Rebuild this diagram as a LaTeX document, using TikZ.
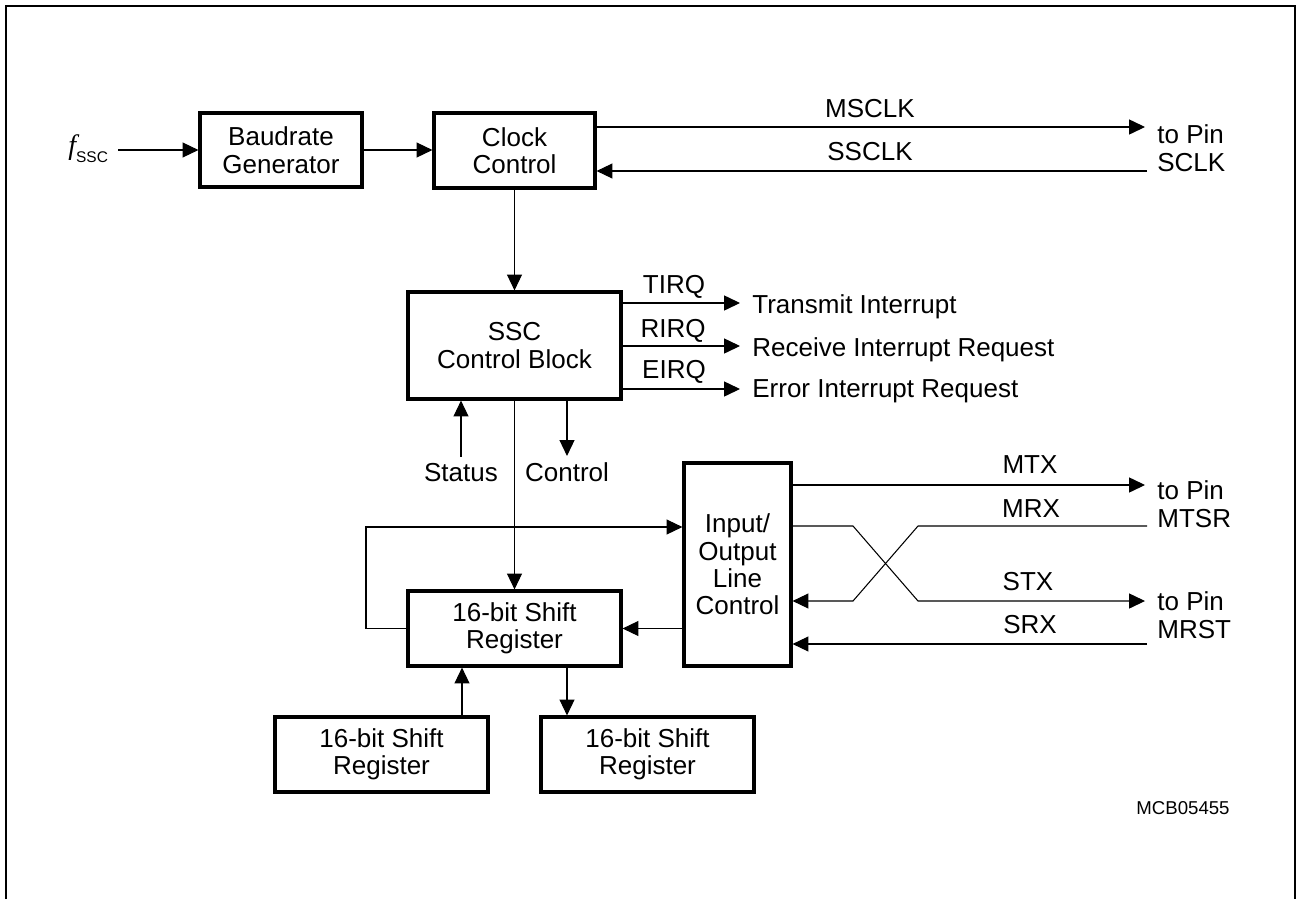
\documentclass[tikz,border=0pt]{standalone}
\usepackage{fontspec}
\setmainfont{Liberation Sans}
\newfontfamily\timesfont{Liberation Serif}
\usetikzlibrary{arrows.meta}

\begin{document}
\begin{tikzpicture}[x=0.02cm, y=-0.02cm,
    font=\fontsize{14.8}{15.6}\selectfont,
    blk/.style={draw, line width=1.8pt, align=center, inner sep=0pt},
    reg/.style={blk, minimum width=4.26cm, minimum height=1.5cm},
    arw/.style={line width=0.6pt, -{Triangle[length=9pt, width=8.5pt]}},
    wire/.style={line width=0.6pt},
    sig/.style={anchor=base, inner sep=0pt},
    pinlbl/.style={anchor=west, align=left, inner sep=0pt}]
    \useasboundingbox (0,0) rectangle (1297,899);
    % outer frame, open at the bottom
    \draw[line width=1.1pt] (6,899) -- (6,6) -- (1295,6) -- (1295,899);

    % clock path
    \node[anchor=base west, inner xsep=5.7pt, inner ysep=0pt] (fssc) at (58,154)
        {{\timesfont\itshape\fontsize{16}{16}\selectfont f}\raisebox{-5pt}{\fontsize{8.8}{9}\selectfont SSC}};
    \node[blk, minimum width=3.24cm, minimum height=1.48cm] (baud) at (281,150) {Baudrate\\Generator};
    \node[blk, minimum width=3.22cm, minimum height=1.5cm] (clk) at (514.5,150.5) {Clock\\Control};
    \draw[arw] (fssc.east |- baud.west) -- (baud.west);
    \draw[arw] (baud.east |- 0,150) -- (clk.west |- 0,150);

    \coordinate (sclkO) at (1145,127);
    \coordinate (sclkI) at (1147,171);
    \draw[arw] (clk.east |- sclkO) -- (sclkO);
    \draw[arw] (sclkI) -- (clk.east |- sclkI);
    \node[sig] at (870,117) {MSCLK};
    \node[sig] at (870,160) {SSCLK};
    \node[pinlbl] (sclk) at (1157,148) {to Pin\\SCLK};

    % control block and interrupts
    \node[blk, minimum width=4.26cm, minimum height=2.14cm] (ssc) at (514.5,345.5) {SSC\\Control Block};
    \draw[arw] (clk) -- (ssc);

    \coordinate (tirq) at (740,303);
    \coordinate (rirq) at (740,346);
    \coordinate (eirq) at (740,389);
    \draw[arw] (ssc.east |- tirq) -- (tirq);
    \draw[arw] (ssc.east |- rirq) -- (rirq);
    \draw[arw] (ssc.east |- eirq) -- (eirq);
    \node[sig] at (674,293) {TIRQ};
    \node[sig] at (673,337) {RIRQ};
    \node[sig] at (674,378) {EIRQ};
    \node[anchor=base west, inner sep=0pt] (txi) at (752,313) {Transmit Interrupt};
    \node[anchor=base west, inner sep=0pt] (rxi) at (752,356) {Receive Interrupt Request};
    \node[anchor=base west, inner sep=0pt] (exi) at (752,397) {Error Interrupt Request};

    \node[anchor=base] (stat) at (461,481) {Status};
    \node[anchor=base] (ctl) at (567,481) {Control};
    \draw[arw] (stat.north) -- (ssc.south -| stat);
    \draw[arw] (ssc.south -| ctl) -- (ctl.north);

    % registers and line control
    \node[reg] (shreg) at (514.5,628.5) {16-bit Shift\\Register};
    \node[reg] (lreg) at (381.5,754.5) {16-bit Shift\\Register};
    \node[reg] (rreg) at (647.5,754.5) {16-bit Shift\\Register};
    \node[blk, minimum width=2.14cm, minimum height=4.06cm] (iolc) at (737.5,564.5) {Input/\\Output\\Line\\Control};

    \draw[arw] (ssc) -- (shreg);
    \coordinate (lp) at (366,527);
    \draw[arw] (shreg.west) -| (lp) -- (iolc.west |- lp);
    \draw[arw] (iolc.west |- shreg.east) -- (shreg.east);
    \draw[arw] (lreg.north -| 462,0) -- (shreg.south -| 462,0);
    \draw[arw] (shreg.south -| 567,0) -- (rreg.north -| 567,0);

    % pin lines with the cross-over
    \coordinate (mtsrO) at (1145,485);
    \coordinate (mtsrI) at (1147,526);
    \coordinate (mrstO) at (1145,601);
    \coordinate (mrstI) at (1147,644);
    \draw[arw] (iolc.east |- mtsrO) -- (mtsrO);
    \draw[arw] (iolc.east |- mtsrI) -- (853,526) -- (918,601) -- (mrstO);
    \draw[arw] (mtsrI) -- (918,526) -- (853,601) -- (iolc.east |- mrstO);
    \draw[arw] (mrstI) -- (iolc.east |- mrstI);
    \node[sig] at (1030,473) {MTX};
    \node[sig] at (1031,517) {MRX};
    \node[sig] at (1028,590) {STX};
    \node[sig] at (1030,633) {SRX};
    \node[pinlbl] (mtsr) at (1157,504) {to Pin\\MTSR};
    \node[pinlbl] (mrst) at (1157,615) {to Pin\\MRST};

    \node[font=\fontsize{10.6}{12}\selectfont] (fig) at (1183,808) {MCB05455};
\end{tikzpicture}
\end{document}
